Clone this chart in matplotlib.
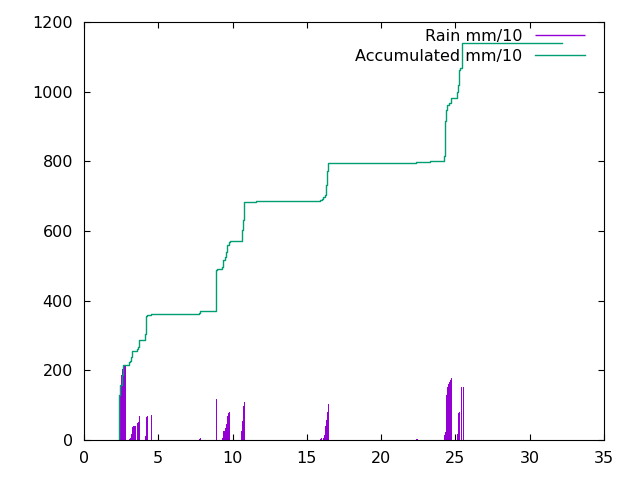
import matplotlib
matplotlib.use("Agg")
import matplotlib.pyplot as plt

# Rain impulses (x in days, value in mm/10)
rain_x = [2.37, 2.43, 2.49, 2.55, 2.61, 2.67, 2.73,
          3.05, 3.11, 3.17, 3.23, 3.29, 3.35, 3.41,
          3.60, 3.66, 3.72,
          4.13, 4.19, 4.25,
          4.51,
          7.74, 7.81,
          8.88,
          9.30, 9.365, 9.43, 9.495, 9.56, 9.625, 9.69, 9.755,
          10.58, 10.645, 10.71, 10.775,
          15.88, 15.95, 16.09, 16.16, 16.225, 16.29, 16.355, 16.42,
          22.35, 22.42,
          24.23, 24.295, 24.36, 24.425, 24.49, 24.555, 24.62, 24.685,
          25.10, 25.165, 25.23,
          25.38, 25.52]
rain_y = [129, 158, 187, 204, 215, 215, 215,
          3, 7, 17, 37, 40, 40, 40,
          48, 53, 69,
          11, 67, 69,
          72,
          4, 6,
          118,
          7, 26, 26, 35, 46, 70, 78, 80,
          26, 55, 98, 109,
          3, 5, 5, 14, 40, 57, 81, 103,
          3, 3,
          14, 23, 129, 152, 161, 167, 172, 178,
          17, 78, 81,
          152, 152]

# Accumulated (step points)
acc_x = [2.33, 2.356, 2.443, 2.558, 2.605, 2.645, 3.049, 3.116, 3.184, 3.231,
         3.547, 3.614, 3.702, 4.126, 4.193, 4.261, 4.51, 7.74, 7.83,
         8.905, 8.972, 9.289, 9.376, 9.47, 9.558, 9.645, 9.74, 9.827,
         10.615, 10.682, 10.749, 10.79, 11.577,
         15.885, 16.0, 16.107, 16.2, 16.27, 16.31, 16.376, 16.443,
         22.326, 23.289, 24.251, 24.298, 24.366, 24.453, 24.547, 24.702,
         25.106, 25.173, 25.24, 25.31, 25.41, 32.15]
acc_y = [0, 129, 158, 187, 204, 215, 223, 228, 239, 256,
         261, 268, 287, 303, 357, 360, 362, 365, 370,
         487, 490, 497, 517, 524, 539, 560, 569, 571,
         603, 632, 660, 683, 686,
         688, 691, 697, 703, 715, 732, 772, 794,
         797, 800, 815, 915, 948, 962, 967, 981,
         1000, 1019, 1062, 1067, 1139, 1139]

x_ticks = [0, 5, 10, 15, 20, 25, 30, 35]
y_ticks = [0, 200, 400, 600, 800, 1000, 1200]

plt.rcParams['font.family'] = ['DejaVu Sans']
plt.rcParams['font.size'] = 11.5

fig = plt.figure(figsize=(6.4, 4.8), dpi=100)
ax = fig.add_axes([84/640, 40/480, 520/640, 418/480])

rain = ax.vlines(rain_x, 0, rain_y, color='#9400D3', lw=0.72,
                 antialiased=False, label='Rain mm/10')
acc, = ax.step(acc_x, acc_y, where='post', color='#009E73', lw=1.0,
               label='Accumulated mm/10')

ax.set_xlim(0, 35)
ax.set_ylim(0, 1200)
ax.set_xticks(x_ticks)
ax.set_yticks(y_ticks)
ax.tick_params(direction='in', length=4.5, width=0.8, top=True, right=True,
               labelsize=11.5, pad=8, colors='black')
for s in ax.spines.values():
    s.set_linewidth(0.8)

leg = ax.legend(handles=[rain, acc], loc='upper right',
                bbox_to_anchor=(585/640, 1 - 29/480), bbox_transform=fig.transFigure,
                frameon=False, markerfirst=False, borderpad=0, borderaxespad=0,
                handlelength=3.1, handletextpad=0.8, labelspacing=0.3,
                fontsize=11.5)
for h in leg.legend_handles:
    h.set_linewidth(1.0)
    h.set_antialiased(True)

fig.savefig('out.png', dpi=100)
